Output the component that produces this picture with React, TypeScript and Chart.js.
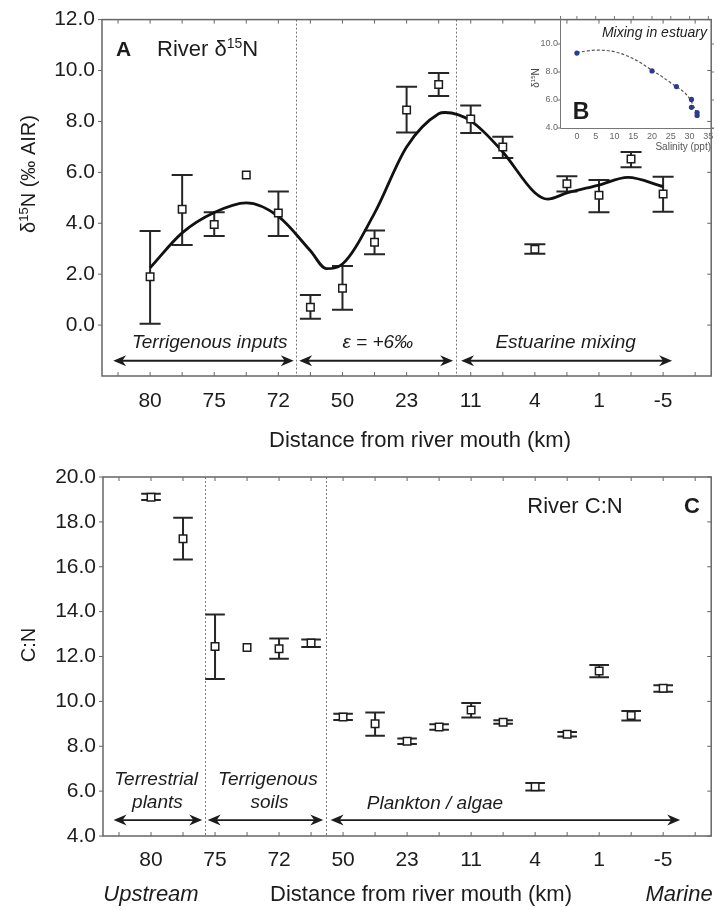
import { useEffect, useRef } from 'react';
import { Chart, registerables } from 'chart.js';

Chart.register(...registerables);

const SANS = '"Liberation Sans", Arial, Helvetica, sans-serif';
const INK = '#1c1c1c';
const FRAME = '#666666';

/* ---------- Panel A: river δ15N along the transect ---------- */
const stationLabels = ['80', '75', '72', '50', '23', '11', '4', '1', '-5'];
const riverD15N = [1.9, 4.55, 3.95, 5.9, 4.4, 0.7, 1.45, 3.25, 8.45, 9.45, 8.1, 7.0, 2.98, 5.55, 5.1, 6.52, 5.15];
const riverD15NLow = [0.05, 3.15, 3.5, null, 3.5, 0.25, 0.6, 2.78, 7.57, 9.0, 7.55, 6.56, 2.8, 5.25, 4.43, 6.2, 4.45];
const riverD15NHigh = [3.7, 5.9, 4.43, null, 5.25, 1.18, 2.32, 3.72, 9.36, 9.9, 8.63, 7.4, 3.18, 5.85, 5.7, 6.8, 5.83];
const trendStation = [0, 1, 2, 3, 4, 5, 5.5, 6, 7, 8, 9, 9.2, 10, 11, 12, 12.4, 13, 14, 14.9, 16];
const trendD15N = [2.25, 3.62, 4.42, 4.8, 4.27, 2.92, 2.22, 2.4, 4.4, 7.0, 8.3, 8.35, 8.02, 6.8, 5.2, 4.95, 5.19, 5.5, 5.8, 5.44];
const yTicksA = [0, 2, 4, 6, 8, 10, 12];

/* ---------- Panel B: mixing in the estuary ---------- */
const salinityPpt = [0, 20, 26.5, 30.5, 30.5, 32, 32];
const estuaryD15N = [9.35, 8.08, 6.96, 6.04, 5.48, 5.1, 4.9];
const mixingFitSalinity = [0, 5, 10, 15, 20, 25, 30, 32.5];
const mixingFitD15N = [9.4, 9.56, 9.45, 8.95, 8.13, 7.22, 6.1, 4.7];
const salinityTicks = [0, 5, 10, 15, 20, 25, 30, 35];
const yTicksB = [4, 6, 8, 10];

/* ---------- Panel C: river C:N ---------- */
const riverCN = [19.1, 17.25, 12.45, 12.4, 12.35, 12.6, 9.3, 9.0, 8.22, 8.86, 9.62, 9.07, 6.2, 8.53, 11.35, 9.37, 10.58];
const riverCNLow = [18.98, 16.32, 11.0, null, 11.9, 12.42, 9.17, 8.47, 8.1, 8.74, 9.28, 9.0, 6.03, 8.43, 11.08, 9.15, 10.43];
const riverCNHigh = [19.25, 18.18, 13.87, null, 12.8, 12.76, 9.45, 9.5, 8.35, 8.98, 9.93, 9.16, 6.36, 8.63, 11.62, 9.57, 10.72];
const yTicksC = [4, 6, 8, 10, 12, 14, 16, 18, 20];

// minor tick marks at every sampling station, plus one beyond each end
const stationTicks = Array.from({ length: 19 }, (_, i) => i - 1);

type Run = { text: string; sup?: boolean };
type RichOpts = {
  size: number;
  weight?: string;
  style?: string;
  align?: 'left' | 'center' | 'right';
  color?: string;
  rotate?: number;
};

function drawRich(ctx: CanvasRenderingContext2D, runs: Run[], x: number, y: number, o: RichOpts) {
  const { size, weight = 'normal', style = 'normal', align = 'left', color = INK, rotate = 0 } = o;
  const fontFor = (sup?: boolean) => `${style} ${weight} ${sup ? Math.round(size * 0.64) : size}px ${SANS}`;
  ctx.save();
  ctx.translate(x, y);
  ctx.rotate(rotate);
  ctx.fillStyle = color;
  ctx.textBaseline = 'middle';
  ctx.textAlign = 'left';
  const widths = runs.map((r) => {
    ctx.font = fontFor(r.sup);
    return ctx.measureText(r.text).width;
  });
  const total = widths.reduce((s, w) => s + w, 0);
  let cx = align === 'center' ? -total / 2 : align === 'right' ? -total : 0;
  runs.forEach((r, i) => {
    ctx.font = fontFor(r.sup);
    ctx.fillText(r.text, cx, r.sup ? -size * 0.24 : 0);
    cx += widths[i];
  });
  ctx.restore();
}

function drawFrame(chart: Chart, xTicks: number[], yTicks: number[]) {
  const { ctx, chartArea: a } = chart;
  const x = chart.scales.x;
  const y = chart.scales.y;
  ctx.save();
  ctx.strokeStyle = FRAME;
  ctx.lineWidth = 1.5;
  ctx.strokeRect(a.left, a.top, a.right - a.left, a.bottom - a.top);
  ctx.lineWidth = 1;
  ctx.beginPath();
  xTicks.forEach((v) => {
    const p = x.getPixelForValue(v);
    ctx.moveTo(p, a.bottom);
    ctx.lineTo(p, a.bottom - 4);
    ctx.moveTo(p, a.top);
    ctx.lineTo(p, a.top + 4);
  });
  yTicks.forEach((v) => {
    const p = y.getPixelForValue(v);
    ctx.moveTo(a.left, p);
    ctx.lineTo(a.left - 4, p);
    ctx.moveTo(a.right, p);
    ctx.lineTo(a.right - 4, p);
  });
  ctx.stroke();
  ctx.restore();
}

function drawDividers(chart: Chart, at: number[]) {
  const { ctx, chartArea: a } = chart;
  const x = chart.scales.x;
  ctx.save();
  ctx.strokeStyle = '#7a7a7a';
  ctx.lineWidth = 1;
  ctx.setLineDash([2, 2]);
  at.forEach((v) => {
    const p = Math.round(x.getPixelForValue(v)) + 0.5;
    ctx.beginPath();
    ctx.moveTo(p, a.top);
    ctx.lineTo(p, a.bottom);
    ctx.stroke();
  });
  ctx.restore();
}

function drawErrorBars(chart: Chart, lows: (number | null)[], highs: (number | null)[], capHalf: number) {
  const { ctx } = chart;
  const x = chart.scales.x;
  const y = chart.scales.y;
  ctx.save();
  ctx.strokeStyle = '#262626';
  ctx.lineWidth = 2;
  lows.forEach((lo, i) => {
    const hi = highs[i];
    if (lo == null || hi == null) return;
    const px = x.getPixelForValue(i);
    const pLo = y.getPixelForValue(lo);
    const pHi = y.getPixelForValue(hi);
    ctx.beginPath();
    ctx.moveTo(px, pLo);
    ctx.lineTo(px, pHi);
    ctx.moveTo(px - capHalf, pLo);
    ctx.lineTo(px + capHalf, pLo);
    ctx.moveTo(px - capHalf, pHi);
    ctx.lineTo(px + capHalf, pHi);
    ctx.stroke();
  });
  ctx.restore();
}

function arrowHead(ctx: CanvasRenderingContext2D, tip: number, y: number, dir: number) {
  const len = 13;
  const half = 5.5;
  const notch = 4;
  ctx.beginPath();
  ctx.moveTo(tip, y);
  ctx.lineTo(tip + dir * len, y - half);
  ctx.lineTo(tip + dir * (len - notch), y);
  ctx.lineTo(tip + dir * len, y + half);
  ctx.closePath();
  ctx.fill();
}

function drawSpans(chart: Chart, level: number, spans: [number, number][]) {
  const { ctx } = chart;
  const x = chart.scales.x;
  const py = chart.scales.y.getPixelForValue(level);
  ctx.save();
  ctx.strokeStyle = INK;
  ctx.fillStyle = INK;
  ctx.lineWidth = 1.8;
  spans.forEach(([from, to]) => {
    const x1 = x.getPixelForValue(from);
    const x2 = x.getPixelForValue(to);
    ctx.beginPath();
    ctx.moveTo(x1 + 6, py);
    ctx.lineTo(x2 - 6, py);
    ctx.stroke();
    arrowHead(ctx, x1, py, 1);
    arrowHead(ctx, x2, py, -1);
  });
  ctx.restore();
}

function drawZoneText(chart: Chart, items: [string, number, number][], size: number) {
  const x = chart.scales.x;
  const y = chart.scales.y;
  items.forEach(([text, sx, sy]) => {
    drawRich(chart.ctx, [{ text }], x.getPixelForValue(sx), y.getPixelForValue(sy), {
      size,
      style: 'italic',
      align: 'center',
    });
  });
}

const tickFont = { family: SANS, size: 21 };

function stationScale(axisHeight: number, pad: number) {
  return {
    type: 'linear' as const,
    min: -1.5,
    max: 17.5,
    afterBuildTicks: (s: any) => {
      s.ticks = stationLabels.map((_, i) => ({ value: i * 2 }));
    },
    afterFit: (s: any) => {
      s.height = axisHeight;
    },
    ticks: {
      callback: (v: any) => stationLabels[Math.round(Number(v) / 2)],
      font: tickFont,
      color: INK,
      padding: pad,
      autoSkip: false,
      maxRotation: 0,
    },
    grid: { display: false, drawTicks: false, tickLength: 0 },
    border: { display: false },
  };
}

function valueScale(min: number, max: number, ticks: number[], width: number, pad: number, size: number, color: string) {
  return {
    type: 'linear' as const,
    min,
    max,
    afterBuildTicks: (s: any) => {
      s.ticks = ticks.map((value) => ({ value }));
    },
    afterFit: (s: any) => {
      s.width = width;
    },
    ticks: {
      callback: (v: any) => Number(v).toFixed(1),
      font: { family: SANS, size },
      color,
      padding: pad,
    },
    grid: { display: false, drawTicks: false, tickLength: 0 },
    border: { display: false },
  };
}

const baseOptions = {
  responsive: false,
  animation: false as const,
  devicePixelRatio: 1,
  events: [] as any[],
  plugins: { legend: { display: false }, tooltip: { enabled: false } },
};

function makePanelA(canvas: HTMLCanvasElement) {
  const decor = {
    id: 'panelADecor',
    beforeDatasetsDraw(chart: Chart) {
      drawDividers(chart, [4.55, 9.55]);
      drawErrorBars(chart, riverD15NLow, riverD15NHigh, 10.5);
    },
    afterDatasetsDraw(chart: Chart) {
      const { ctx, chartArea: a } = chart;
      drawSpans(chart, -1.4, [
        [-1.15, 4.48],
        [4.65, 9.45],
        [9.7, 16.28],
      ]);
      drawZoneText(
        chart,
        [
          ['Terrigenous inputs', 1.86, -0.7],
          ['ε = +6‰', 7.1, -0.7],
          ['Estuarine mixing', 12.96, -0.7],
        ],
        19
      );
      drawRich(ctx, [{ text: 'A' }], a.left + 14, a.top + 31, { size: 21, weight: 'bold' });
      drawRich(ctx, [{ text: 'River δ' }, { text: '15', sup: true }, { text: 'N' }], a.left + 55, a.top + 30, { size: 22 });
      drawRich(ctx, [{ text: 'δ' }, { text: '15', sup: true }, { text: 'N (‰ AIR)' }], 29, 174, {
        size: 20,
        align: 'center',
        rotate: -Math.PI / 2,
      });
      drawRich(ctx, [{ text: 'Distance from river mouth (km)' }], 420, 441, { size: 22, align: 'center' });
      drawFrame(chart, stationTicks, yTicksA);
    },
  };

  return new Chart(canvas, {
    type: 'scatter',
    data: {
      datasets: [
        {
          data: riverD15N.map((y, i) => ({ x: i, y })),
          pointStyle: 'rect',
          pointRadius: 5.3,
          pointBackgroundColor: '#ffffff',
          pointBorderColor: INK,
          pointBorderWidth: 1.5,
        },
        {
          type: 'line',
          data: trendStation.map((x, i) => ({ x, y: trendD15N[i] })),
          borderColor: '#111111',
          borderWidth: 2.8,
          pointRadius: 0,
          cubicInterpolationMode: 'monotone',
          fill: false,
        },
      ],
    } as any,
    options: {
      ...baseOptions,
      layout: { padding: { top: 16, right: 4, left: 0, bottom: 0 } },
      scales: {
        x: stationScale(79, 13),
        y: valueScale(-2, 12, yTicksA, 102, 7, 21, INK),
      },
    } as any,
    plugins: [decor],
  });
}

function makePanelB(canvas: HTMLCanvasElement) {
  const decor = {
    id: 'panelBDecor',
    afterDatasetsDraw(chart: Chart) {
      const { ctx, chartArea: a } = chart;
      const x = chart.scales.x;
      const y = chart.scales.y;
      ctx.save();
      ctx.strokeStyle = '#777777';
      ctx.lineWidth = 1;
      ctx.beginPath();
      ctx.moveTo(a.left + 0.5, a.top);
      ctx.lineTo(a.left + 0.5, a.bottom + 0.5);
      ctx.lineTo(a.right, a.bottom + 0.5);
      salinityTicks.forEach((v) => {
        const p = x.getPixelForValue(v);
        ctx.moveTo(p, a.top);
        ctx.lineTo(p, a.top + 3);
      });
      yTicksB.forEach((v) => {
        const p = y.getPixelForValue(v);
        ctx.moveTo(a.left, p);
        ctx.lineTo(a.left - 3, p);
        ctx.moveTo(a.right, p);
        ctx.lineTo(a.right - 3, p);
      });
      ctx.stroke();
      ctx.restore();
      drawRich(ctx, [{ text: 'Mixing in estuary' }], a.right - 7, 33, { size: 14, style: 'italic', align: 'right', color: '#222' });
      drawRich(ctx, [{ text: 'B' }], a.left + 21, 113, { size: 23, weight: 'bold', align: 'center' });
      drawRich(ctx, [{ text: 'Salinity (ppt)' }], a.right - 3, 147, { size: 10, align: 'right', color: '#555' });
      drawRich(ctx, [{ text: 'δ' }, { text: '15', sup: true }, { text: 'N' }], 16, 78, {
        size: 10,
        align: 'center',
        color: '#444',
        rotate: -Math.PI / 2,
      });
    },
  };

  return new Chart(canvas, {
    type: 'scatter',
    data: {
      datasets: [
        {
          data: salinityPpt.map((x, i) => ({ x, y: estuaryD15N[i] })),
          pointStyle: 'circle',
          pointRadius: 2.6,
          pointBackgroundColor: '#2b3b8e',
          pointBorderColor: '#2b3b8e',
          pointBorderWidth: 0,
        },
        {
          type: 'line',
          data: mixingFitSalinity.map((x, i) => ({ x, y: mixingFitD15N[i] })),
          borderColor: '#555555',
          borderWidth: 1.2,
          borderDash: [3, 2],
          pointRadius: 0,
          cubicInterpolationMode: 'monotone',
          fill: false,
        },
      ],
    } as any,
    options: {
      ...baseOptions,
      layout: { padding: { top: 16, right: 4, left: 0, bottom: 0 } },
      scales: {
        x: {
          type: 'linear',
          min: -4.5,
          max: 36.5,
          afterBuildTicks: (s: any) => {
            s.ticks = salinityTicks.map((value) => ({ value }));
          },
          afterFit: (s: any) => {
            s.height = 37;
          },
          ticks: { font: { family: SANS, size: 9 }, color: '#666', padding: 3, autoSkip: false, maxRotation: 0 },
          grid: { display: false, drawTicks: false, tickLength: 0 },
          border: { display: false },
        },
        y: valueScale(4, 12, yTicksB, 40, 2, 9, '#666'),
      },
    } as any,
    plugins: [decor],
  });
}

function makePanelC(canvas: HTMLCanvasElement) {
  const decor = {
    id: 'panelCDecor',
    beforeDatasetsDraw(chart: Chart) {
      drawDividers(chart, [1.68, 5.47]);
      drawErrorBars(chart, riverCNLow, riverCNHigh, 9.8);
    },
    afterDatasetsDraw(chart: Chart) {
      const { ctx, chartArea: a } = chart;
      drawSpans(chart, 4.71, [
        [-1.17, 1.6],
        [1.77, 5.38],
        [5.61, 16.53],
      ]);
      drawZoneText(
        chart,
        [
          ['Terrestrial', 0.16, 6.5],
          ['plants', 0.2, 5.48],
          ['Terrigenous', 3.65, 6.5],
          ['soils', 3.7, 5.48],
          ['Plankton / algae', 8.87, 5.43],
        ],
        19
      );
      drawRich(ctx, [{ text: 'River C:N' }], 575, a.top + 30, { size: 22, align: 'center' });
      drawRich(ctx, [{ text: 'C' }], 692, a.top + 30, { size: 22, weight: 'bold', align: 'center' });
      drawRich(ctx, [{ text: 'C:N' }], 29, 190, { size: 20, align: 'center', rotate: -Math.PI / 2 });
      drawRich(ctx, [{ text: 'Upstream' }], 151, 440, { size: 22, style: 'italic', align: 'center' });
      drawRich(ctx, [{ text: 'Distance from river mouth (km)' }], 421, 440, { size: 22, align: 'center' });
      drawRich(ctx, [{ text: 'Marine' }], 679, 440, { size: 22, style: 'italic', align: 'center' });
      drawFrame(chart, stationTicks, yTicksC);
    },
  };

  return new Chart(canvas, {
    type: 'scatter',
    data: {
      datasets: [
        {
          data: riverCN.map((y, i) => ({ x: i, y })),
          pointStyle: 'rect',
          pointRadius: 5.3,
          pointBackgroundColor: '#ffffff',
          pointBorderColor: INK,
          pointBorderWidth: 1.5,
        },
      ],
    } as any,
    options: {
      ...baseOptions,
      layout: { padding: { top: 22, right: 4, left: 0, bottom: 0 } },
      scales: {
        x: stationScale(74, 12),
        y: valueScale(4, 20, yTicksC, 103, 7, 21, INK),
      },
    } as any,
    plugins: [decor],
  });
}

export default function App() {
  const refA = useRef<HTMLCanvasElement>(null);
  const refB = useRef<HTMLCanvasElement>(null);
  const refC = useRef<HTMLCanvasElement>(null);

  useEffect(() => {
    const charts = [makePanelA(refA.current!), makePanelB(refB.current!), makePanelC(refC.current!)];
    return () => charts.forEach((c) => c.destroy());
  }, []);

  return (
    <div style={{ position: 'absolute', left: 0, top: 0, width: 718, height: 910, background: '#ffffff', overflow: 'hidden' }}>
      <canvas ref={refA} width={718} height={455} style={{ position: 'absolute', left: 0, top: 0 }} />
      <canvas ref={refB} width={198} height={165} style={{ position: 'absolute', left: 520, top: 0 }} />
      <canvas ref={refC} width={718} height={455} style={{ position: 'absolute', left: 0, top: 455 }} />
    </div>
  );
}
